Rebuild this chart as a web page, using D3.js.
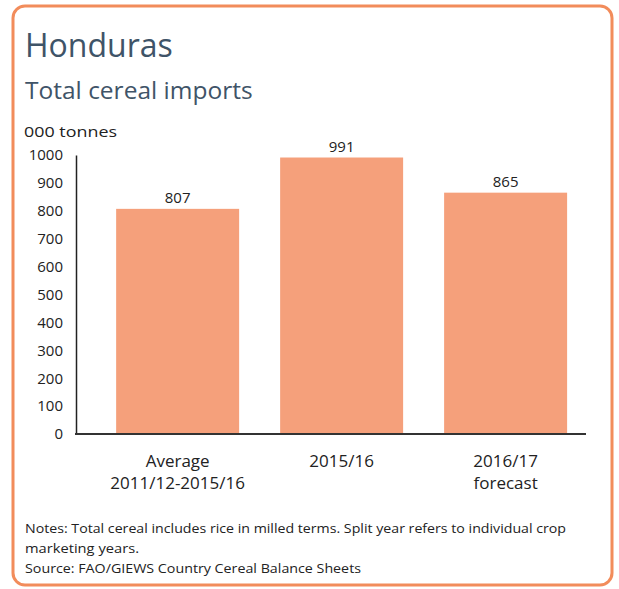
<!DOCTYPE html>
<html><head><meta charset="utf-8">
<script src="https://cdn.jsdelivr.net/npm/d3@7"></script>
<style>
html,body{margin:0;padding:0;background:#fff;}
svg{display:block;font-family:"Open Sans","Noto Sans",sans-serif;}
</style></head>
<body>
<svg id="c" width="619" height="589"></svg>
<script>
const categories = [["Average","2011/12-2015/16"],["2015/16"],["2016/17","forecast"]];
const values = [807, 991, 865];
const yTicks = [0,100,200,300,400,500,600,700,800,900,1000];
const notes = ["Notes: Total cereal includes rice in milled terms. Split year refers to individual crop","marketing years.","Source: FAO/GIEWS Country Cereal Balance Sheets"];
const noteWidths = [541, 114, 336];

const svg = d3.select("#c");
svg.append("rect").attr("x",13).attr("y",6).attr("width",599).attr("height",579)
  .attr("rx",12).attr("fill","#fff").attr("stroke","#F28C5B").attr("stroke-width",3);

svg.append("text").attr("x",25).attr("y",57).attr("font-size",32).attr("fill","#3F5468").text("Honduras");
svg.append("text").attr("x",25).attr("y",99).attr("font-size",24.5).attr("fill","#3F5468").text("Total cereal imports");
svg.append("text").attr("x",24).attr("y",137).attr("font-size",15).attr("fill","#222")
  .attr("textLength",93).attr("lengthAdjust","spacingAndGlyphs").text("000 tonnes");

const x = d3.scaleBand().domain(d3.range(values.length)).range([76,586])
  .paddingInner(0.25).paddingOuter(0.18).align(0.68);
const y = d3.scaleLinear().domain([0,1000]).range([434,155]);

svg.selectAll("rect.bar").data(values).join("rect").attr("class","bar")
  .attr("x",(d,i)=>x(i)).attr("width",x.bandwidth())
  .attr("y",d=>y(d)).attr("height",d=>y(0)-y(d)).attr("fill","#F5A07B");

svg.selectAll("text.val").data(values).join("text").attr("class","val")
  .attr("x",(d,i)=>x(i)+x.bandwidth()/2).attr("y",d=>y(d)-6)
  .attr("text-anchor","middle").attr("font-size",15).attr("fill","#222").text(d=>d);

const yAxis = svg.append("g").attr("transform","translate(76,0)")
  .call(d3.axisLeft(y).tickValues(yTicks).tickFormat(d3.format("d")).tickSize(0).tickPadding(13));
yAxis.select(".domain").attr("stroke","#222").attr("stroke-width",1.5);
yAxis.selectAll("text").attr("font-size",15).attr("fill","#222").attr("font-family","'Open Sans','Noto Sans',sans-serif");

svg.append("line").attr("x1",75).attr("x2",586).attr("y1",y(0)).attr("y2",y(0))
  .attr("stroke","#333").attr("stroke-width",2);

categories.forEach((lines,i)=>{
  const t = svg.append("text").attr("text-anchor","middle").attr("font-size",17).attr("fill","#222");
  lines.forEach((l,j)=>t.append("tspan").attr("x",x(i)+x.bandwidth()/2).attr("y",467+j*22).text(l));
});

notes.forEach((n,i)=>svg.append("text").attr("x",25).attr("y",533+i*20)
  .attr("font-size",13).attr("fill","#222").attr("textLength",noteWidths[i])
  .attr("lengthAdjust","spacingAndGlyphs").text(n));
</script>
</body></html>
